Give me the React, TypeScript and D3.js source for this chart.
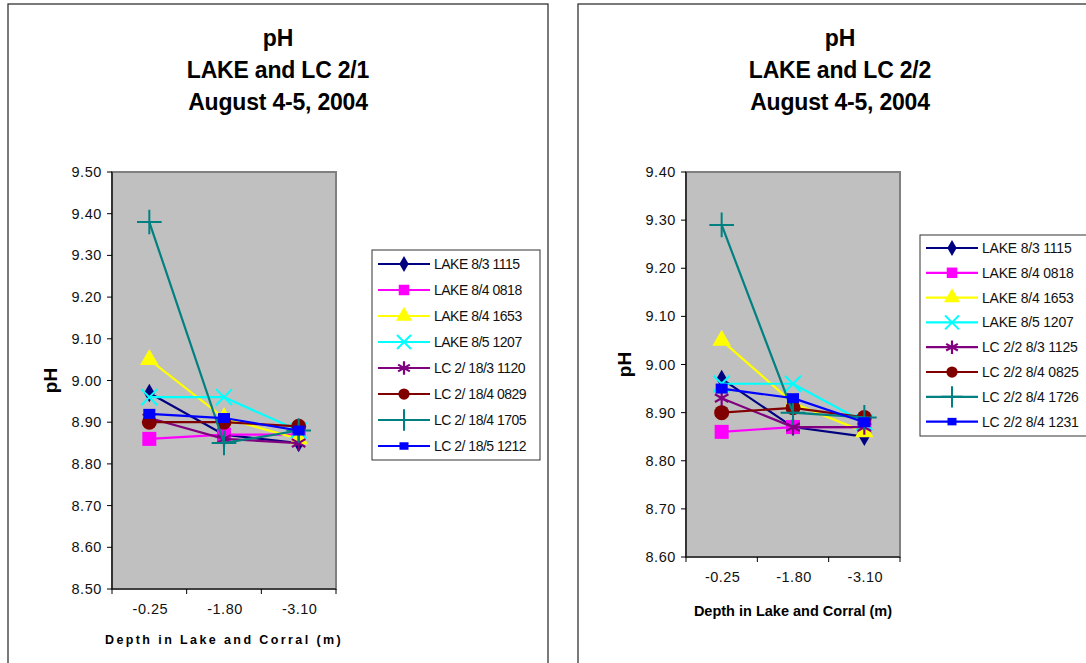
import React from 'react'
import * as d3 from 'd3'

const depths = ['-0.25', '-1.80', '-3.10']

const seriesNamesA = [
  'LAKE 8/3 1115',
  'LAKE 8/4 0818',
  'LAKE 8/4 1653',
  'LAKE 8/5 1207',
  'LC 2/ 18/3 1120',
  'LC 2/ 18/4 0829',
  'LC 2/ 18/4 1705',
  'LC 2/ 18/5 1212',
]
const valuesA = [
  [8.97, 8.87, 8.85],
  [8.86, 8.87, 8.87],
  [9.05, 8.91, 8.86],
  [8.96, 8.96, 8.88],
  [8.91, 8.86, 8.85],
  [8.9, 8.9, 8.89],
  [9.38, 8.85, 8.88],
  [8.92, 8.91, 8.88],
]
const yTicksA = [8.5, 8.6, 8.7, 8.8, 8.9, 9.0, 9.1, 9.2, 9.3, 9.4, 9.5]

const seriesNamesB = [
  'LAKE 8/3 1115',
  'LAKE 8/4 0818',
  'LAKE 8/4 1653',
  'LAKE 8/5 1207',
  'LC 2/2 8/3  1125',
  'LC 2/2 8/4  0825',
  'LC 2/2 8/4  1726',
  'LC 2/2 8/4  1231',
]
const valuesB = [
  [8.97, 8.87, 8.85],
  [8.86, 8.87, 8.87],
  [9.05, 8.92, 8.86],
  [8.96, 8.96, 8.88],
  [8.93, 8.87, 8.87],
  [8.9, 8.91, 8.89],
  [9.29, 8.9, 8.89],
  [8.95, 8.93, 8.88],
]
const yTicksB = [8.6, 8.7, 8.8, 8.9, 9.0, 9.1, 9.2, 9.3, 9.4]

const colors = ['#000080', '#FF00FF', '#FFFF00', '#00FFFF', '#800080', '#800000', '#008080', '#0000FF']
const FONT = '"Liberation Sans", Arial, sans-serif'

type Kind = 'diamond' | 'square' | 'triangle' | 'x' | 'asterisk' | 'circle' | 'plus' | 'small'
const kinds: Kind[] = ['diamond', 'square', 'triangle', 'x', 'asterisk', 'circle', 'plus', 'small']

const Marker = ({ kind, color, x, y, s = 1 }: { kind: Kind; color: string; x: number; y: number; s?: number }) => {
  const t = `translate(${x},${y})`
  switch (kind) {
    case 'diamond':
      return <path transform={t} d={d3.symbol(d3.symbolDiamond, 100 * s)()!} fill={color} />
    case 'square':
      return <rect x={x - 7 * s} y={y - 7 * s} width={14 * s} height={14 * s} fill={color} />
    case 'triangle':
      return <path transform={t} d={d3.symbol(d3.symbolTriangle, 150 * s)()!} fill={color} />
    case 'x':
      return <path transform={t} d={d3.symbol(d3.symbolX, 170 * s)()!} fill="none" stroke={color} strokeWidth={2} />
    case 'asterisk':
      return <path transform={t} d={d3.symbol(d3.symbolAsterisk, 170 * s)()!} fill="none" stroke={color} strokeWidth={2.2} />
    case 'circle':
      return <circle cx={x} cy={y} r={7.5 * s} fill={color} />
    case 'plus':
      return <path transform={t} d={d3.symbol(d3.symbolPlus, 200 * s)()!} fill="none" stroke={color} strokeWidth={2} />
    case 'small':
      return <rect x={x - 6 * s} y={y - 5 * s} width={12 * s} height={10 * s} fill={color} />
  }
}

interface ChartProps {
  frame: [number, number, number, number]
  titleX: number
  title: string[]
  plot: [number, number, number, number]
  yTicks: number[]
  names: string[]
  values: number[][]
  legend: { x: number; y: number; w: number; h: number; y0: number; dy: number }
  yTitleX: number
  xTitleY: number
  tickY: number
  spaced: boolean
}

const Chart = (p: ChartProps) => {
  const [l, t, r, b] = p.plot
  const x = d3.scalePoint<string>().domain(depths).range([l, r]).padding(0.5)
  const y = d3.scaleLinear().domain(d3.extent(p.yTicks) as [number, number]).range([b, t])
  const band = (r - l) / depths.length
  const line = d3
    .line<number>()
    .x((_, i) => x(depths[i])!)
    .y(v => y(v))
  const lg = p.legend
  return (
    <g fontFamily={FONT}>
      <rect x={p.frame[0]} y={p.frame[1]} width={p.frame[2]} height={p.frame[3]} fill="#fff" stroke="#333" strokeWidth={1.3} />
      {p.title.map((s, i) => (
        <text key={i} x={p.titleX} y={46 + i * 32} textAnchor="middle" fontSize={23} fontWeight="bold" letterSpacing={-0.2}>
          {s}
        </text>
      ))}
      <rect x={l} y={t} width={r - l} height={b - t} fill="#C0C0C0" stroke="#808080" strokeWidth={2} />
      <line x1={l} x2={l} y1={t} y2={b} stroke="#000" strokeWidth={1.2} />
      <line x1={l} x2={r} y1={b} y2={b} stroke="#000" strokeWidth={1.2} />
      {p.yTicks.map(v => (
        <g key={v}>
          <line x1={l - 5} x2={l} y1={y(v)} y2={y(v)} stroke="#000" />
          <text x={l - 10} y={y(v) + 5} textAnchor="end" fontSize={14.5} letterSpacing={0.6} fill="#111">
            {v.toFixed(2)}
          </text>
        </g>
      ))}
      {d3.range(depths.length + 1).map(i => (
        <line key={i} x1={l + i * band} x2={l + i * band} y1={b} y2={b + 5} stroke="#000" />
      ))}
      {depths.map(d => (
        <text key={d} x={x(d)! + 1} y={p.tickY} textAnchor="middle" fontSize={14.5} letterSpacing={0.5} fill="#111">
          {d}
        </text>
      ))}
      <text
        transform={`translate(${p.yTitleX},${(t + b) / 2}) rotate(-90)`}
        textAnchor="middle"
        fontSize={19}
        fontWeight="bold"
      >
        pH
      </text>
      <text
        x={(l + r) / 2}
        y={p.xTitleY}
        textAnchor="middle"
        fontSize={p.spaced ? 12.5 : 14.5}
        fontWeight="bold"
        letterSpacing={p.spaced ? 2.4 : 0}
      >
        Depth in Lake and Corral (m)
      </text>
      {p.values.map((vals, i) => (
        <g key={i}>
          <path d={line(vals)!} fill="none" stroke={colors[i]} strokeWidth={2.2} />
          {vals.map((v, j) => (
            <Marker key={j} kind={kinds[i]} color={colors[i]} x={x(depths[j])!} y={y(v)} />
          ))}
        </g>
      ))}
      <rect x={lg.x} y={lg.y} width={lg.w} height={lg.h} fill="#fff" stroke="#333" strokeWidth={1} />
      {p.names.map((n, i) => {
        const yy = lg.y0 + i * lg.dy
        return (
          <g key={n}>
            <line x1={lg.x + 6} x2={lg.x + 58} y1={yy} y2={yy} stroke={colors[i]} strokeWidth={2.2} />
            <Marker kind={kinds[i]} color={colors[i]} x={lg.x + 32} y={yy} s={0.75} />
            <text x={lg.x + 62} y={yy + 5} fontSize={14} letterSpacing={p.spaced ? -0.5 : -0.2} fill="#111">
              {n}
            </text>
          </g>
        )
      })}
    </g>
  )
}

const App = () => (
  <svg width={1086} height={663} style={{ position: 'absolute', left: 0, top: 0, background: '#fff' }}>
    <Chart
      frame={[8, 4, 540, 700]}
      titleX={278}
      title={['pH', 'LAKE and LC 2/1', 'August 4-5, 2004']}
      plot={[112, 172, 336, 589]}
      yTicks={yTicksA}
      names={seriesNamesA}
      values={valuesA}
      legend={{ x: 372, y: 250, w: 168, h: 210, y0: 264, dy: 26 }}
      yTitleX={57}
      xTitleY={644}
      tickY={614}
      spaced={true}
    />
    <Chart
      frame={[578, 4, 560, 700]}
      titleX={840}
      title={['pH', 'LAKE and LC 2/2', 'August 4-5, 2004']}
      plot={[686, 172, 900, 557]}
      yTicks={yTicksB}
      names={seriesNamesB}
      values={valuesB}
      legend={{ x: 920, y: 235, w: 200, h: 201, y0: 248, dy: 24.8 }}
      yTitleX={631}
      xTitleY={616}
      tickY={582}
      spaced={false}
    />
  </svg>
)

export default App
